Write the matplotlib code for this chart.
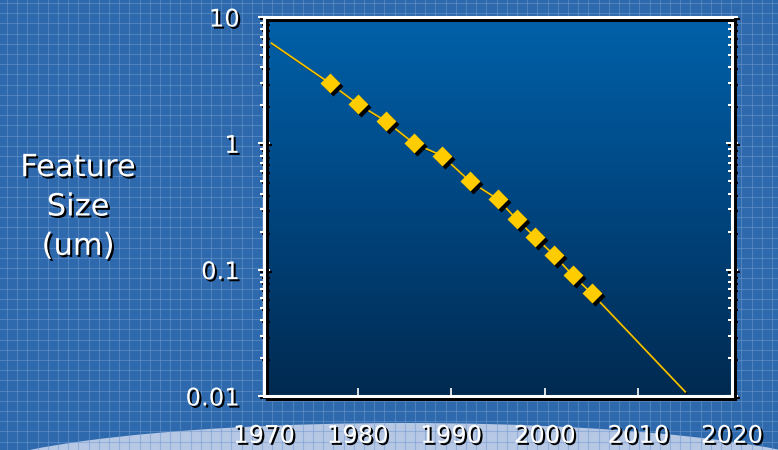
import numpy as np
import matplotlib
matplotlib.use("Agg")
import matplotlib.pyplot as plt
import matplotlib.patheffects as pe
import matplotlib.transforms as mtransforms
from matplotlib.patches import Ellipse
from matplotlib.ticker import LogLocator, NullFormatter

# feature size data
years = [1977, 1980, 1983, 1986, 1989, 1992, 1995, 1997, 1999, 2001, 2003, 2005]
feature_um = [3.0, 2.05, 1.5, 1.0, 0.8, 0.5, 0.36, 0.25, 0.18, 0.13, 0.09, 0.065]
# trend curve (runs through the points, extended at both ends)
trend_years = [1970.8, 1977, 1980, 1983, 1986, 1989, 1992, 1995, 1997, 1999, 2001, 2003, 2005, 2015.0]
trend_um = [6.2, 3.0, 2.05, 1.5, 1.0, 0.8, 0.5, 0.36, 0.25, 0.18, 0.13, 0.09, 0.065, 0.0108]

x_ticks = [1970, 1980, 1990, 2000, 2010, 2020]
y_ticks = [10, 1, 0.1, 0.01]
y_labels = ["10", "1", "0.1", "0.01"]

W, H = 778, 450
fig = plt.figure(figsize=(W / 100, H / 100), dpi=100)
fig.patch.set_facecolor("#2e69ad")

# background: blueprint grid + pale arc at the bottom
bg = fig.add_axes([0, 0, 1, 1], zorder=-10)
bg.set_xlim(0, W)
bg.set_ylim(H, 0)
bg.axis("off")
bg.set_facecolor("#2e69ad")
arc = Ellipse((405, 483), 900, 120, facecolor="#b6c8e4", edgecolor="none", zorder=1)
bg.add_patch(arc)
for gx in np.arange(7, W, 10.2):
    bg.axvline(gx, color="#6f9ad0", lw=0.8, alpha=0.5, zorder=2)
for gy in np.arange(3, H, 10.2):
    bg.axhline(gy, color="#6f9ad0", lw=0.8, alpha=0.5, zorder=2)

shadow_txt = [pe.withSimplePatchShadow(offset=(1.5, -1.5), shadow_rgbFace="black", alpha=1.0)]
shadow_line = [pe.SimpleLineShadow(offset=(2, -2), shadow_color="black", alpha=1.0), pe.Normal()]

ax = fig.add_axes([264 / W, 1 - 396 / H, (732 - 264) / W, (396 - 17) / H])
ax.set_yscale("log")
ax.set_xlim(1970, 2020)
ax.set_ylim(0.01, 10)

# vertical gradient for the plot area
grad = np.linspace(0, 1, 256).reshape(-1, 1)
cmap = matplotlib.colors.LinearSegmentedColormap.from_list("g", ["#0061a9", "#00457f", "#002a50"])
ax.imshow(grad, cmap=cmap, extent=[0, 1, 0, 1], transform=ax.transAxes,
          aspect="auto", origin="upper", zorder=0)

ax.plot(trend_years, trend_um, color="#f2c200", lw=1.3, zorder=2,
        path_effects=[pe.SimpleLineShadow(offset=(0.8, -0.8), shadow_color="black", alpha=0.8), pe.Normal()])
off = mtransforms.offset_copy(ax.transData, fig=fig, x=3, y=-3, units="dots")
ax.plot(years, feature_um, "D", ms=10, color="black", mec="none", transform=off, zorder=3)
ax.plot(years, feature_um, "D", ms=10, color="#ffcc00", mec="none", zorder=4)

for s in ax.spines.values():
    s.set_color("white")
    s.set_linewidth(2.2)
    s.set_path_effects(shadow_line)
    s.set_zorder(6)

ax.set_xticks(x_ticks, [str(x) for x in x_ticks])
ax.set_yticks(y_ticks, y_labels)
ax.yaxis.set_minor_locator(LogLocator(base=10, subs=np.arange(2, 10)))
ax.yaxis.set_minor_formatter(NullFormatter())

ax.tick_params(axis="x", which="major", direction="in", length=6, width=1.2,
               color="white", labelcolor="white", labelsize=17.5, pad=20, top=False)
ax.tick_params(axis="y", which="major", direction="inout", length=9, width=1.5,
               color="white", labelcolor="white", labelsize=17.5, pad=13, right=True)
ax.tick_params(axis="y", which="minor", direction="inout", length=6, width=1.5,
               color="white", right=True)

tick_shadow = [pe.SimpleLineShadow(offset=(1.5, -1.5), shadow_color="black", alpha=1.0), pe.Normal()]
for t in ax.yaxis.get_major_ticks() + ax.yaxis.get_minor_ticks():
    t.tick1line.set_path_effects(tick_shadow)
    t.tick2line.set_path_effects(tick_shadow)
for t in ax.xaxis.get_major_ticks() + ax.yaxis.get_major_ticks():
    t.label1.set_path_effects(shadow_txt)

fig.text(78 / W, 1 - 207 / H, "Feature\nSize\n(um)", color="white", fontsize=22,
         ha="center", va="center", linespacing=1.45, path_effects=shadow_txt)

fig.savefig("out.png", dpi=100, facecolor=fig.get_facecolor())
